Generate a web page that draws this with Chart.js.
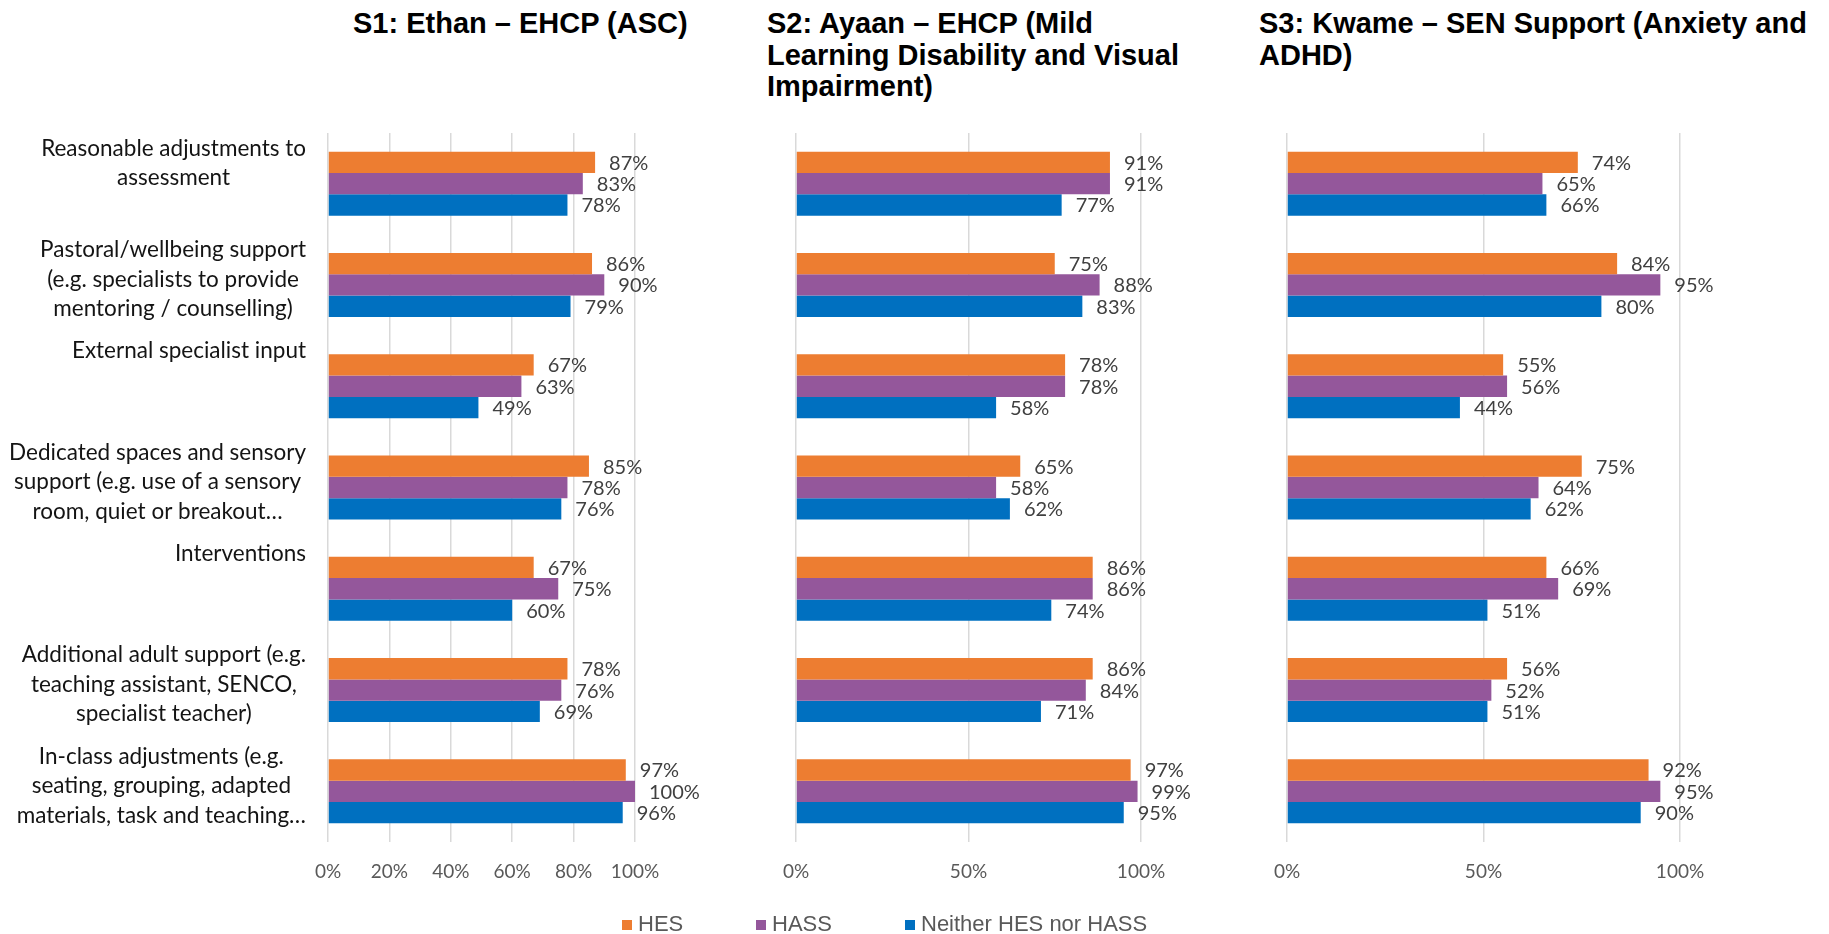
<!DOCTYPE html>
<html>
<head>
<meta charset="utf-8">
<script src="https://cdn.jsdelivr.net/npm/chart.js@4"></script>
<style>
  html, body { margin: 0; padding: 0; background: #fff; }
  #wrap { position: relative; width: 1829px; height: 934px; overflow: hidden; }
  .title { position: absolute; top: 8px; font: bold 29px "Liberation Sans", Arial, sans-serif; line-height: 31.5px; color: #000; white-space: nowrap; }
  canvas { position: absolute; top: 100px; }
  .leg { position: absolute; top: 911px; height: 26px; line-height: 26px; font: 22px "Liberation Sans", Arial, sans-serif; color: #595959; white-space: nowrap; }
  .leg span { display: inline-block; width: 10px; height: 10px; margin-right: 6px; vertical-align: 1px; }
</style>
</head>
<body>
<div id="wrap">
  <div class="title" style="left:353px">S1: Ethan – EHCP (ASC)</div>
  <div class="title" style="left:767px">S2: Ayaan – EHCP (Mild<br>Learning Disability and Visual<br>Impairment)</div>
  <div class="title" style="left:1259px">S3: Kwame – SEN Support (Anxiety and<br>ADHD)</div>
  <canvas id="s1" width="720" height="820" style="left:0px"></canvas>
  <canvas id="s2" width="480" height="820" style="left:720px"></canvas>
  <canvas id="s3" width="629" height="820" style="left:1200px"></canvas>
  <div id="legend"></div>
</div>
<script>
// categories, top to bottom (line breaks as in the original)
const categories = [
  ["Reasonable adjustments to", "assessment"],
  ["Pastoral/wellbeing support", "(e.g. specialists to provide", "mentoring / counselling)"],
  ["External specialist input"],
  ["Dedicated spaces and sensory", "support (e.g. use of a sensory", "room, quiet or breakout…"],
  ["Interventions"],
  ["Additional adult support (e.g.", "teaching assistant, SENCO,", "specialist teacher)"],
  ["In-class adjustments (e.g.", "seating, grouping, adapted", "materials, task and teaching…"]
];

const seriesNames = ["HES", "HASS", "Neither HES nor HASS"];
const seriesColors = ["#ED7D31", "#94579B", "#0070C0"];

// % values
const s1HES     = [87, 86, 67, 85, 67, 78, 97];
const s1HASS    = [83, 90, 63, 78, 75, 76, 100];
const s1Neither = [78, 79, 49, 76, 60, 69, 96];

const s2HES     = [91, 75, 78, 65, 86, 86, 97];
const s2HASS    = [91, 88, 78, 58, 86, 84, 99];
const s2Neither = [77, 83, 58, 62, 74, 71, 95];

const s3HES     = [74, 84, 55, 75, 66, 56, 92];
const s3HASS    = [65, 95, 56, 64, 69, 52, 95];
const s3Neither = [66, 80, 44, 62, 51, 51, 90];

const s1TickStep = 20;
const s2TickStep = 50;
const s3TickStep = 50;

// value labels at the end of each bar
const valueLabels = {
  id: "valueLabels",
  afterDatasetsDraw(chart) {
    const ctx = chart.ctx;
    ctx.save();
    ctx.font = "20px Lato";
    ctx.fillStyle = "#404040";
    ctx.textBaseline = "middle";
    chart.data.datasets.forEach((ds, i) => {
      chart.getDatasetMeta(i).data.forEach((bar, j) => {
        ctx.fillText(ds.data[j] + "%", bar.x + 14, bar.y + 1);
      });
    });
    ctx.restore();
  }
};

// category labels: block right-aligned, lines centred, anchored at top of band
const categoryLabels = {
  id: "categoryLabels",
  afterDraw(chart) {
    const ctx = chart.ctx;
    const y = chart.scales.y;
    ctx.save();
    ctx.font = "22.5px Lato";
    ctx.fillStyle = "#141414";
    ctx.textAlign = "center";
    ctx.textBaseline = "middle";
    categories.forEach((lines, i) => {
      const w = Math.max(...lines.map(l => ctx.measureText(l).width));
      const cx = 306 - w / 2;
      const top = y.getPixelForTick(i) - 35;
      lines.forEach((l, k) => ctx.fillText(l, cx, top + k * 29.5));
    });
    ctx.restore();
  }
};

function makePanel(id, hes, hass, neither, step, padLeft, padRight, withLabels) {
  const values = [hes, hass, neither];
  new Chart(document.getElementById(id), {
    type: "bar",
    data: {
      labels: categories.map(c => c.join(" ")),
      datasets: values.map((v, i) => ({
        label: seriesNames[i],
        data: v,
        backgroundColor: seriesColors[i],
        barPercentage: 1,
        categoryPercentage: 0.632
      }))
    },
    options: {
      indexAxis: "y",
      responsive: false,
      animation: false,
      layout: { padding: { left: padLeft, right: padRight, top: 33, bottom: 0 } },
      plugins: { legend: { display: false }, tooltip: { enabled: false } },
      scales: {
        x: {
          min: 0,
          max: 100,
          ticks: {
            stepSize: step,
            callback: v => v + "%",
            color: "#595959",
            font: { family: "Lato", size: 19 },
            padding: 18,
            maxRotation: 0,
            autoSkip: false
          },
          grid: { color: "#d9d9d9", lineWidth: 1.5, drawTicks: false },
          border: { display: false },
          afterFit: s => { s.height = 78; }
        },
        y: withLabels ? {
          ticks: { display: false },
          grid: { display: false },
          border: { display: false },
          afterFit: s => { s.width = 328; }
        } : { display: false }
      }
    },
    plugins: withLabels ? [valueLabels, categoryLabels] : [valueLabels]
  });
}

makePanel("s1", s1HES, s1HASS, s1Neither, s1TickStep, 0, 85, true);
makePanel("s2", s2HES, s2HASS, s2Neither, s2TickStep, 76, 59, false);
makePanel("s3", s3HES, s3HASS, s3Neither, s3TickStep, 87, 149, false);

// legend
const legendLeft = [622, 756, 905];
const legend = document.getElementById("legend");
seriesNames.forEach((name, i) => {
  const d = document.createElement("div");
  d.className = "leg";
  d.style.left = legendLeft[i] + "px";
  d.innerHTML = '<span style="background:' + seriesColors[i] + '"></span>' + name;
  legend.appendChild(d);
});
</script>
</body>
</html>
